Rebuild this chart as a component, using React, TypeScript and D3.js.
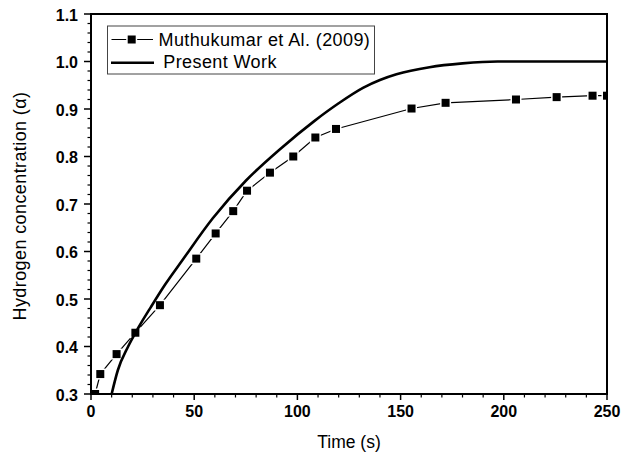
import React from 'react';
import * as d3 from 'd3';

// Muthukumar et Al. (2009) - square markers
const expTime = [2, 4.5, 12.4, 21.5, 33.4, 51, 60.4, 68.9, 75.6, 86.7, 98, 108.7, 118.7, 155.3, 171.8, 205.9, 225.6, 243, 250];
const expConc = [0.3, 0.342, 0.384, 0.429, 0.487, 0.585, 0.638, 0.685, 0.728, 0.766, 0.8, 0.84, 0.858, 0.901, 0.913, 0.92, 0.925, 0.928, 0.928];

// Present Work - solid curve
const modelTime = [10, 13, 18, 23, 29, 36, 44, 59, 75, 92, 108, 120, 132, 140, 148, 164, 180, 197, 213, 250];
const modelConc = [0.3, 0.35, 0.4, 0.44, 0.483, 0.531, 0.58, 0.67, 0.749, 0.817, 0.874, 0.912, 0.945, 0.961, 0.973, 0.988, 0.996, 1.0, 1.0, 1.0];

const xTicks = [0, 50, 100, 150, 200, 250];
const yTicks = [0.3, 0.4, 0.5, 0.6, 0.7, 0.8, 0.9, 1.0, 1.1];

const W = 625;
const H = 456;
const left = 91, right = 607, top = 14, bottom = 394;

export default function App() {
  const x = d3.scaleLinear().domain([0, 250]).range([left, right]);
  const y = d3.scaleLinear().domain([0.3, 1.1]).range([bottom, top]);

  const exp = expTime.map((t, i) => [t, expConc[i]] as [number, number]);
  const model = modelTime.map((t, i) => [t, modelConc[i]] as [number, number]);

  const expLine = d3.line<[number, number]>().x(d => x(d[0])).y(d => y(d[1]));
  const modelLine = d3.line<[number, number]>().x(d => x(d[0])).y(d => y(d[1])).curve(d3.curveMonotoneX);

  const xMinor = d3.range(0, 251, 10).filter(v => v % 50 !== 0);
  const yMinor = d3.range(30, 111, 2).filter(v => v % 10 !== 0).map(v => v / 100);

  const font = '"Liberation Sans", Arial, sans-serif';
  const ms = 8;

  return (
    <svg width={W} height={H} style={{position: 'absolute', left: 0, top: 0, background: '#fff'}}
         fontFamily={font}>
      <defs>
        <clipPath id="plot">
          <rect x={left} y={top} width={right - left} height={bottom - top}/>
        </clipPath>
      </defs>

      <g clipPath="url(#plot)">
        <path d={expLine(exp) || ''} fill="none" stroke="#000" strokeWidth={1.2}/>
        {exp.map((d, i) => (
          <rect key={'h' + i} x={x(d[0]) - 5.5} y={y(d[1]) - 5.5} width={11} height={11} fill="#fff"/>
        ))}
        {exp.map((d, i) => (
          <rect key={'m' + i} x={x(d[0]) - ms / 2} y={y(d[1]) - ms / 2} width={ms} height={ms} fill="#000"/>
        ))}
        <path d={modelLine(model) || ''} fill="none" stroke="#000" strokeWidth={2.6}/>
      </g>

      {/* frame */}
      <rect x={left} y={top} width={right - left} height={bottom - top} fill="none" stroke="#000" strokeWidth={2}/>

      {/* x axis ticks */}
      {xTicks.map(t => (
        <g key={'xt' + t}>
          <line x1={x(t)} x2={x(t)} y1={bottom} y2={bottom + 6} stroke="#000" strokeWidth={1.5}/>
          <text x={x(t)} y={417} textAnchor="middle" fontSize={16} fontWeight="bold">{t}</text>
        </g>
      ))}
      {xMinor.map(t => (
        <line key={'xm' + t} x1={x(t)} x2={x(t)} y1={bottom} y2={bottom + 3.5} stroke="#000" strokeWidth={1.2}/>
      ))}

      {/* y axis ticks */}
      {yTicks.map(t => (
        <g key={'yt' + t}>
          <line x1={left - 7} x2={left} y1={y(t)} y2={y(t)} stroke="#000" strokeWidth={1.5}/>
          <text x={78} y={y(t) + 6.5} textAnchor="end" fontSize={16} fontWeight="bold">{t.toFixed(1)}</text>
        </g>
      ))}
      {yMinor.map(t => (
        <line key={'ym' + t} x1={left - 3.5} x2={left} y1={y(t)} y2={y(t)} stroke="#000" strokeWidth={1.2}/>
      ))}

      {/* axis titles */}
      <text x={349} y={447.5} textAnchor="middle" fontSize={17.5}>Time (s)</text>
      <text transform="translate(26,206) rotate(-90)" textAnchor="middle" fontSize={18} letterSpacing={0.4}>
        Hydrogen concentration (α)
      </text>

      {/* legend */}
      <rect x={107.5} y={26} width={267} height={48} fill="#fff" stroke="#444" strokeWidth={1}/>
      <line x1={111.5} x2={153} y1={39.5} y2={39.5} stroke="#000" strokeWidth={1.2}/>
      <rect x={131.7 - 5.5} y={39.5 - 5.5} width={11} height={11} fill="#fff"/>
      <rect x={131.7 - ms / 2} y={39.5 - ms / 2} width={ms} height={ms} fill="#000"/>
      <text x={158.5} y={45.7} fontSize={18} letterSpacing={0.4}>Muthukumar et Al. (2009)</text>
      <line x1={111} x2={154} y1={62.7} y2={62.7} stroke="#000" strokeWidth={2.6}/>
      <text x={163.3} y={68.3} fontSize={18} letterSpacing={0.4}>Present Work</text>
    </svg>
  );
}
